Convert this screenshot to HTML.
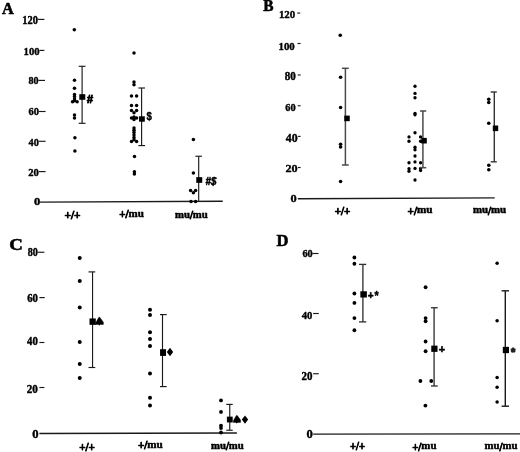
<!DOCTYPE html>
<html><head><meta charset="utf-8"><title>Figure</title>
<style>html,body{margin:0;padding:0;background:#fff;overflow:hidden}svg{display:block}</style>
</head><body>
<svg width="520" height="452" viewBox="0 0 520 452">
<rect width="520" height="452" fill="#fff"/>
<text transform="matrix(0.1631 0 0 0.1628 2.09 13.50)" font-size="100" font-family='"Liberation Serif", serif' font-weight="bold" font-style="normal" fill="#000" stroke="#000" stroke-width="3.5" stroke-linejoin="round">A</text>
<text transform="matrix(0.1042 0 0 0.1163 22.27 23.64)" font-size="100" font-family='"Liberation Serif", serif' font-weight="bold" font-style="normal" fill="#000" stroke="#000" stroke-width="3.5" stroke-linejoin="round">120</text>
<line x1="37.50" y1="19.40" x2="44.40" y2="19.40" stroke="#1a1a1a" stroke-width="1.15"/>
<text transform="matrix(0.1071 0 0 0.1126 23.54 54.59)" font-size="100" font-family='"Liberation Serif", serif' font-weight="bold" font-style="normal" fill="#000" stroke="#000" stroke-width="3.5" stroke-linejoin="round">100</text>
<line x1="39.50" y1="50.40" x2="44.40" y2="50.40" stroke="#1a1a1a" stroke-width="1.15"/>
<text transform="matrix(0.1007 0 0 0.1126 28.42 84.09)" font-size="100" font-family='"Liberation Serif", serif' font-weight="bold" font-style="normal" fill="#000" stroke="#000" stroke-width="3.5" stroke-linejoin="round">80</text>
<line x1="38.30" y1="80.40" x2="45.00" y2="80.40" stroke="#1a1a1a" stroke-width="1.15"/>
<text transform="matrix(0.1051 0 0 0.1111 28.39 114.79)" font-size="100" font-family='"Liberation Serif", serif' font-weight="bold" font-style="normal" fill="#000" stroke="#000" stroke-width="3.5" stroke-linejoin="round">60</text>
<line x1="38.80" y1="111.50" x2="45.60" y2="111.50" stroke="#1a1a1a" stroke-width="1.15"/>
<text transform="matrix(0.1028 0 0 0.1126 28.61 146.49)" font-size="100" font-family='"Liberation Serif", serif' font-weight="bold" font-style="normal" fill="#000" stroke="#000" stroke-width="3.5" stroke-linejoin="round">40</text>
<line x1="38.80" y1="141.30" x2="45.60" y2="141.30" stroke="#1a1a1a" stroke-width="1.15"/>
<text transform="matrix(0.1060 0 0 0.1126 28.30 176.29)" font-size="100" font-family='"Liberation Serif", serif' font-weight="bold" font-style="normal" fill="#000" stroke="#000" stroke-width="3.5" stroke-linejoin="round">20</text>
<line x1="38.80" y1="171.60" x2="45.60" y2="171.60" stroke="#1a1a1a" stroke-width="1.15"/>
<text transform="matrix(0.1262 0 0 0.1082 33.92 204.79)" font-size="100" font-family='"Liberation Serif", serif' font-weight="bold" font-style="normal" fill="#000" stroke="#000" stroke-width="3.5" stroke-linejoin="round">0</text>
<line x1="39.75" y1="202.10" x2="222.75" y2="201.30" stroke="#1a1a1a" stroke-width="1.4"/>
<circle cx="74.30" cy="29.70" r="1.75" fill="#000"/>
<circle cx="74.50" cy="80.20" r="1.75" fill="#000"/>
<circle cx="74.50" cy="88.20" r="1.75" fill="#000"/>
<circle cx="74.50" cy="94.40" r="1.75" fill="#000"/>
<circle cx="74.50" cy="96.60" r="1.75" fill="#000"/>
<circle cx="74.50" cy="99.00" r="1.75" fill="#000"/>
<circle cx="72.50" cy="101.80" r="1.75" fill="#000"/>
<circle cx="77.10" cy="101.80" r="1.75" fill="#000"/>
<circle cx="74.50" cy="100.80" r="1.75" fill="#000"/>
<circle cx="74.50" cy="115.00" r="1.75" fill="#000"/>
<circle cx="74.50" cy="118.00" r="1.75" fill="#000"/>
<circle cx="74.90" cy="137.70" r="1.75" fill="#000"/>
<circle cx="74.90" cy="151.10" r="1.75" fill="#000"/>
<line x1="82.10" y1="66.30" x2="82.10" y2="123.30" stroke="#1a1a1a" stroke-width="1.15"/>
<line x1="78.70" y1="66.30" x2="85.50" y2="66.30" stroke="#1a1a1a" stroke-width="1.15"/>
<line x1="78.70" y1="123.30" x2="85.50" y2="123.30" stroke="#1a1a1a" stroke-width="1.15"/>
<rect x="79.30" y="94.20" width="6" height="5.6" fill="#000"/>
<text transform="matrix(0.1109 0 0 0.1145 86.85 102.80)" font-size="100" font-family='"Liberation Sans", sans-serif' font-weight="bold" font-style="italic" fill="#000" stroke="#000" stroke-width="8" stroke-linejoin="round">#</text>
<circle cx="134.00" cy="52.90" r="1.75" fill="#000"/>
<circle cx="134.00" cy="81.90" r="1.75" fill="#000"/>
<circle cx="134.00" cy="84.75" r="1.75" fill="#000"/>
<circle cx="131.50" cy="95.90" r="1.75" fill="#000"/>
<circle cx="136.60" cy="95.90" r="1.75" fill="#000"/>
<circle cx="131.50" cy="105.60" r="1.75" fill="#000"/>
<circle cx="136.60" cy="105.60" r="1.75" fill="#000"/>
<circle cx="131.50" cy="110.60" r="1.75" fill="#000"/>
<circle cx="136.60" cy="110.60" r="1.75" fill="#000"/>
<circle cx="134.00" cy="112.75" r="1.75" fill="#000"/>
<circle cx="131.50" cy="118.00" r="1.75" fill="#000"/>
<circle cx="136.60" cy="118.00" r="1.75" fill="#000"/>
<circle cx="134.00" cy="117.00" r="1.75" fill="#000"/>
<circle cx="134.00" cy="119.50" r="1.75" fill="#000"/>
<circle cx="134.00" cy="128.00" r="1.75" fill="#000"/>
<circle cx="134.00" cy="130.30" r="1.75" fill="#000"/>
<circle cx="134.00" cy="132.60" r="1.75" fill="#000"/>
<circle cx="134.00" cy="135.00" r="1.75" fill="#000"/>
<circle cx="134.00" cy="137.40" r="1.75" fill="#000"/>
<circle cx="134.00" cy="139.80" r="1.75" fill="#000"/>
<circle cx="131.50" cy="141.50" r="1.75" fill="#000"/>
<circle cx="136.60" cy="141.50" r="1.75" fill="#000"/>
<circle cx="134.50" cy="156.60" r="1.75" fill="#000"/>
<circle cx="134.40" cy="171.70" r="1.75" fill="#000"/>
<circle cx="134.40" cy="174.00" r="1.75" fill="#000"/>
<line x1="141.60" y1="88.00" x2="141.60" y2="145.60" stroke="#1a1a1a" stroke-width="1.15"/>
<line x1="138.40" y1="88.00" x2="145.00" y2="88.00" stroke="#1a1a1a" stroke-width="1.15"/>
<line x1="138.40" y1="145.60" x2="145.00" y2="145.60" stroke="#1a1a1a" stroke-width="1.15"/>
<rect x="139.00" y="116.30" width="5.8" height="5.4" fill="#000"/>
<text transform="matrix(0.0964 0 0 0.1115 146.47 119.77)" font-size="100" font-family='"Liberation Sans", sans-serif' font-weight="bold" font-style="normal" fill="#000" stroke="#000" stroke-width="3.5" stroke-linejoin="round">$</text>
<circle cx="193.40" cy="139.40" r="1.75" fill="#000"/>
<circle cx="193.40" cy="173.00" r="1.75" fill="#000"/>
<circle cx="190.60" cy="190.60" r="1.75" fill="#000"/>
<circle cx="195.60" cy="190.60" r="1.75" fill="#000"/>
<circle cx="193.40" cy="192.75" r="1.75" fill="#000"/>
<circle cx="191.00" cy="201.50" r="1.75" fill="#000"/>
<circle cx="195.60" cy="201.50" r="1.75" fill="#000"/>
<line x1="198.70" y1="156.25" x2="198.70" y2="201.00" stroke="#1a1a1a" stroke-width="1.15"/>
<line x1="195.40" y1="156.25" x2="201.90" y2="156.25" stroke="#1a1a1a" stroke-width="1.15"/>
<rect x="196.25" y="177.15" width="6" height="5.7" fill="#000"/>
<text transform="matrix(0.0973 0 0 0.1066 205.59 184.51)" font-size="100" font-family='"Liberation Sans", sans-serif' font-weight="bold" font-style="italic" fill="#000" stroke="#000" stroke-width="5" stroke-linejoin="round">#$</text>
<text transform="matrix(0.1143 0 0 0.1200 64.40 219.40)" font-size="100" font-family='"Liberation Serif", serif' font-weight="bold" fill="#000" stroke="#000" stroke-width="7.0" stroke-linejoin="round">+/+</text>
<text transform="matrix(0.1101 0 0 0.1200 119.17 218.20)" font-size="100" font-family='"Liberation Serif", serif' font-weight="bold" fill="#000" stroke="#000" stroke-width="7.0" stroke-linejoin="round">+/</text>
<text transform="matrix(0.1101 0 0 0.1090 128.50 216.70)" font-size="100" font-family='"Liberation Serif", serif' font-weight="bold" fill="#000" stroke="#000" stroke-width="4.5" stroke-linejoin="round">mu</text>
<text transform="matrix(0.1074 0 0 0.1090 174.96 217.50)" font-size="100" font-family='"Liberation Serif", serif' font-weight="bold" fill="#000" stroke="#000" stroke-width="4.5" stroke-linejoin="round">mu</text>
<text transform="matrix(0.1074 0 0 0.1200 189.88 219.00)" font-size="100" font-family='"Liberation Serif", serif' font-weight="bold" fill="#000" stroke="#000" stroke-width="7.0" stroke-linejoin="round">/</text>
<text transform="matrix(0.1074 0 0 0.1090 192.87 217.50)" font-size="100" font-family='"Liberation Serif", serif' font-weight="bold" fill="#000" stroke="#000" stroke-width="4.5" stroke-linejoin="round">mu</text>
<text transform="matrix(0.1542 0 0 0.1596 263.24 11.45)" font-size="100" font-family='"Liberation Serif", serif' font-weight="bold" font-style="normal" fill="#000" stroke="#000" stroke-width="3.5" stroke-linejoin="round">B</text>
<text transform="matrix(0.1086 0 0 0.1082 278.88 17.79)" font-size="100" font-family='"Liberation Serif", serif' font-weight="bold" font-style="normal" fill="#000" stroke="#000" stroke-width="3.5" stroke-linejoin="round">120</text>
<line x1="297.25" y1="13.10" x2="300.20" y2="13.10" stroke="#1a1a1a" stroke-width="1.15"/>
<text transform="matrix(0.1086 0 0 0.1111 278.53 49.89)" font-size="100" font-family='"Liberation Serif", serif' font-weight="bold" font-style="normal" fill="#000" stroke="#000" stroke-width="3.5" stroke-linejoin="round">100</text>
<line x1="297.50" y1="43.50" x2="300.60" y2="43.50" stroke="#1a1a1a" stroke-width="1.15"/>
<text transform="matrix(0.1104 0 0 0.1208 284.63 80.28)" font-size="100" font-family='"Liberation Serif", serif' font-weight="bold" font-style="normal" fill="#000" stroke="#000" stroke-width="3.5" stroke-linejoin="round">80</text>
<line x1="297.75" y1="75.00" x2="300.60" y2="75.00" stroke="#1a1a1a" stroke-width="1.15"/>
<text transform="matrix(0.1040 0 0 0.1141 285.24 111.49)" font-size="100" font-family='"Liberation Serif", serif' font-weight="bold" font-style="normal" fill="#000" stroke="#000" stroke-width="3.5" stroke-linejoin="round">60</text>
<line x1="297.75" y1="105.75" x2="300.60" y2="105.75" stroke="#1a1a1a" stroke-width="1.15"/>
<text transform="matrix(0.1186 0 0 0.1148 285.84 142.14)" font-size="100" font-family='"Liberation Serif", serif' font-weight="bold" font-style="normal" fill="#000" stroke="#000" stroke-width="3.5" stroke-linejoin="round">40</text>
<line x1="298.10" y1="136.40" x2="300.60" y2="136.40" stroke="#1a1a1a" stroke-width="1.15"/>
<text transform="matrix(0.1223 0 0 0.1111 285.49 171.89)" font-size="100" font-family='"Liberation Serif", serif' font-weight="bold" font-style="normal" fill="#000" stroke="#000" stroke-width="3.5" stroke-linejoin="round">20</text>
<line x1="298.00" y1="167.50" x2="300.60" y2="167.50" stroke="#1a1a1a" stroke-width="1.15"/>
<text transform="matrix(0.1239 0 0 0.1111 290.53 201.89)" font-size="100" font-family='"Liberation Serif", serif' font-weight="bold" font-style="normal" fill="#000" stroke="#000" stroke-width="3.5" stroke-linejoin="round">0</text>
<line x1="297.90" y1="198.70" x2="494.70" y2="197.90" stroke="#1a1a1a" stroke-width="1.4"/>
<circle cx="340.25" cy="35.25" r="1.8" fill="#000"/>
<circle cx="340.60" cy="77.25" r="1.8" fill="#000"/>
<circle cx="340.60" cy="107.50" r="1.8" fill="#000"/>
<circle cx="340.60" cy="144.20" r="1.8" fill="#000"/>
<circle cx="340.60" cy="147.00" r="1.8" fill="#000"/>
<circle cx="340.60" cy="181.50" r="1.8" fill="#000"/>
<line x1="345.40" y1="68.30" x2="345.40" y2="165.00" stroke="#4a4a4a" stroke-width="1.5"/>
<line x1="341.90" y1="68.30" x2="348.75" y2="68.30" stroke="#4a4a4a" stroke-width="1.5"/>
<line x1="341.90" y1="165.00" x2="348.75" y2="165.00" stroke="#4a4a4a" stroke-width="1.5"/>
<rect x="344.25" y="115.60" width="5.5" height="5.6" fill="#000"/>
<circle cx="415.00" cy="86.25" r="1.65" fill="#000"/>
<circle cx="415.00" cy="93.40" r="1.65" fill="#000"/>
<circle cx="415.00" cy="97.75" r="1.65" fill="#000"/>
<circle cx="415.00" cy="113.30" r="1.65" fill="#000"/>
<circle cx="415.00" cy="114.80" r="1.65" fill="#000"/>
<circle cx="415.00" cy="132.75" r="1.65" fill="#000"/>
<circle cx="409.00" cy="136.90" r="1.65" fill="#000"/>
<circle cx="420.60" cy="136.90" r="1.65" fill="#000"/>
<circle cx="409.00" cy="141.25" r="1.65" fill="#000"/>
<circle cx="420.60" cy="141.25" r="1.65" fill="#000"/>
<circle cx="415.00" cy="147.25" r="1.65" fill="#000"/>
<circle cx="415.00" cy="149.75" r="1.65" fill="#000"/>
<circle cx="415.00" cy="156.00" r="1.65" fill="#000"/>
<circle cx="415.00" cy="161.90" r="1.65" fill="#000"/>
<circle cx="409.00" cy="162.75" r="1.65" fill="#000"/>
<circle cx="420.60" cy="162.75" r="1.65" fill="#000"/>
<circle cx="415.00" cy="168.40" r="1.65" fill="#000"/>
<circle cx="409.00" cy="168.75" r="1.65" fill="#000"/>
<circle cx="409.00" cy="171.25" r="1.65" fill="#000"/>
<circle cx="420.60" cy="168.50" r="1.65" fill="#000"/>
<circle cx="420.60" cy="170.50" r="1.65" fill="#000"/>
<circle cx="415.00" cy="180.00" r="1.65" fill="#000"/>
<line x1="422.90" y1="111.00" x2="422.90" y2="167.70" stroke="#4a4a4a" stroke-width="1.5"/>
<line x1="420.00" y1="111.00" x2="426.25" y2="111.00" stroke="#4a4a4a" stroke-width="1.5"/>
<line x1="420.00" y1="167.70" x2="426.25" y2="167.70" stroke="#4a4a4a" stroke-width="1.5"/>
<rect x="421.20" y="137.90" width="5.6" height="5.6" fill="#000"/>
<circle cx="488.75" cy="99.20" r="1.8" fill="#000"/>
<circle cx="488.75" cy="102.50" r="1.8" fill="#000"/>
<circle cx="488.75" cy="123.20" r="1.8" fill="#000"/>
<circle cx="488.80" cy="165.30" r="1.8" fill="#000"/>
<circle cx="488.80" cy="169.70" r="1.8" fill="#000"/>
<line x1="494.30" y1="92.00" x2="494.30" y2="161.80" stroke="#333" stroke-width="1.4"/>
<line x1="490.70" y1="92.00" x2="496.80" y2="92.00" stroke="#333" stroke-width="1.4"/>
<line x1="490.70" y1="161.80" x2="496.80" y2="161.80" stroke="#333" stroke-width="1.4"/>
<rect x="492.80" y="125.50" width="5.4" height="5.6" fill="#000"/>
<text transform="matrix(0.1105 0 0 0.1200 334.67 214.50)" font-size="100" font-family='"Liberation Serif", serif' font-weight="bold" fill="#000" stroke="#000" stroke-width="7.0" stroke-linejoin="round">+/+</text>
<text transform="matrix(0.1119 0 0 0.1200 407.51 214.75)" font-size="100" font-family='"Liberation Serif", serif' font-weight="bold" fill="#000" stroke="#000" stroke-width="7.0" stroke-linejoin="round">+/</text>
<text transform="matrix(0.1119 0 0 0.1090 417.00 213.25)" font-size="100" font-family='"Liberation Serif", serif' font-weight="bold" fill="#000" stroke="#000" stroke-width="4.5" stroke-linejoin="round">mu</text>
<text transform="matrix(0.1086 0 0 0.1090 472.91 213.30)" font-size="100" font-family='"Liberation Serif", serif' font-weight="bold" fill="#000" stroke="#000" stroke-width="4.5" stroke-linejoin="round">mu</text>
<text transform="matrix(0.1086 0 0 0.1200 487.99 214.80)" font-size="100" font-family='"Liberation Serif", serif' font-weight="bold" fill="#000" stroke="#000" stroke-width="7.0" stroke-linejoin="round">/</text>
<text transform="matrix(0.1086 0 0 0.1090 491.01 213.30)" font-size="100" font-family='"Liberation Serif", serif' font-weight="bold" fill="#000" stroke="#000" stroke-width="4.5" stroke-linejoin="round">mu</text>
<text transform="matrix(0.1884 0 0 0.1734 9.33 249.58)" font-size="100" font-family='"Liberation Serif", serif' font-weight="bold" font-style="normal" fill="#000" stroke="#000" stroke-width="3.5" stroke-linejoin="round">C</text>
<text transform="matrix(0.1012 0 0 0.1186 27.76 256.13)" font-size="100" font-family='"Liberation Serif", serif' font-weight="bold" font-style="normal" fill="#000" stroke="#000" stroke-width="3.5" stroke-linejoin="round">80</text>
<line x1="37.50" y1="252.25" x2="44.40" y2="252.25" stroke="#1a1a1a" stroke-width="1.15"/>
<text transform="matrix(0.1078 0 0 0.1223 27.13 301.63)" font-size="100" font-family='"Liberation Serif", serif' font-weight="bold" font-style="normal" fill="#000" stroke="#000" stroke-width="3.5" stroke-linejoin="round">60</text>
<line x1="39.40" y1="297.60" x2="44.75" y2="297.60" stroke="#1a1a1a" stroke-width="1.15"/>
<text transform="matrix(0.1081 0 0 0.1200 27.10 345.48)" font-size="100" font-family='"Liberation Serif", serif' font-weight="bold" font-style="normal" fill="#000" stroke="#000" stroke-width="3.5" stroke-linejoin="round">40</text>
<line x1="39.40" y1="342.50" x2="44.40" y2="342.50" stroke="#1a1a1a" stroke-width="1.15"/>
<text transform="matrix(0.1114 0 0 0.1163 26.78 392.99)" font-size="100" font-family='"Liberation Serif", serif' font-weight="bold" font-style="normal" fill="#000" stroke="#000" stroke-width="3.5" stroke-linejoin="round">20</text>
<line x1="39.40" y1="387.50" x2="44.40" y2="387.50" stroke="#1a1a1a" stroke-width="1.15"/>
<text transform="matrix(0.1262 0 0 0.1208 32.27 437.78)" font-size="100" font-family='"Liberation Serif", serif' font-weight="bold" font-style="normal" fill="#000" stroke="#000" stroke-width="3.5" stroke-linejoin="round">0</text>
<line x1="39.40" y1="433.50" x2="236.90" y2="433.00" stroke="#1a1a1a" stroke-width="1.4"/>
<circle cx="79.75" cy="258.10" r="2.0" fill="#000"/>
<circle cx="79.75" cy="281.00" r="2.0" fill="#000"/>
<circle cx="79.75" cy="307.50" r="2.0" fill="#000"/>
<circle cx="79.75" cy="341.90" r="2.0" fill="#000"/>
<circle cx="79.75" cy="364.10" r="2.0" fill="#000"/>
<circle cx="79.75" cy="377.90" r="2.0" fill="#000"/>
<line x1="92.55" y1="271.90" x2="92.55" y2="367.50" stroke="#1a1a1a" stroke-width="1.15"/>
<line x1="88.50" y1="271.90" x2="95.25" y2="271.90" stroke="#1a1a1a" stroke-width="1.15"/>
<line x1="88.50" y1="367.50" x2="95.25" y2="367.50" stroke="#1a1a1a" stroke-width="1.15"/>
<rect x="89.50" y="318.45" width="6.3" height="6.4" fill="#000"/>
<polygon points="95.60,324.50 95.60,322.90 98.80,317.30 99.80,317.30 103.40,322.20 103.40,324.50 100.30,324.50 99.30,325.30 98.30,324.50" fill="#000" stroke="#000" stroke-width="0.4" stroke-linejoin="round"/>
<circle cx="150.00" cy="309.75" r="2.0" fill="#000"/>
<circle cx="150.00" cy="315.00" r="2.0" fill="#000"/>
<circle cx="150.00" cy="332.25" r="2.0" fill="#000"/>
<circle cx="150.00" cy="339.10" r="2.0" fill="#000"/>
<circle cx="150.00" cy="346.00" r="2.0" fill="#000"/>
<circle cx="150.00" cy="373.50" r="2.0" fill="#000"/>
<circle cx="150.00" cy="397.75" r="2.0" fill="#000"/>
<circle cx="150.00" cy="405.40" r="2.0" fill="#000"/>
<line x1="162.50" y1="314.60" x2="162.50" y2="386.60" stroke="#1a1a1a" stroke-width="1.15"/>
<line x1="160.00" y1="314.60" x2="166.70" y2="314.60" stroke="#1a1a1a" stroke-width="1.15"/>
<line x1="160.00" y1="386.60" x2="166.70" y2="386.60" stroke="#1a1a1a" stroke-width="1.15"/>
<rect x="160.05" y="349.20" width="6.0" height="6.7" fill="#000"/>
<polygon points="166.85,352.05 170.00,347.75 173.15,352.05 170.00,356.35" fill="#000"/>
<circle cx="221.00" cy="400.40" r="1.9" fill="#000"/>
<circle cx="221.00" cy="411.90" r="1.9" fill="#000"/>
<circle cx="221.00" cy="425.60" r="1.9" fill="#000"/>
<circle cx="221.00" cy="428.10" r="1.9" fill="#000"/>
<circle cx="221.00" cy="432.50" r="1.9" fill="#000"/>
<line x1="229.75" y1="404.40" x2="229.75" y2="430.25" stroke="#1a1a1a" stroke-width="1.15"/>
<line x1="226.25" y1="404.40" x2="232.75" y2="404.40" stroke="#1a1a1a" stroke-width="1.15"/>
<line x1="226.25" y1="430.25" x2="232.75" y2="430.25" stroke="#1a1a1a" stroke-width="1.15"/>
<rect x="226.90" y="416.65" width="5.8" height="5.8" fill="#000"/>
<polygon points="233.30,422.40 233.30,420.80 236.30,415.60 237.30,415.60 240.60,420.10 240.60,422.40 237.80,422.40 236.80,423.20 235.80,422.40" fill="#000" stroke="#000" stroke-width="0.4" stroke-linejoin="round"/>
<polygon points="241.85,419.55 245.00,415.40 248.15,419.55 245.00,423.70" fill="#000"/>
<text transform="matrix(0.1116 0 0 0.1200 79.16 450.50)" font-size="100" font-family='"Liberation Serif", serif' font-weight="bold" fill="#000" stroke="#000" stroke-width="7.0" stroke-linejoin="round">+/+</text>
<text transform="matrix(0.1113 0 0 0.1200 137.91 449.25)" font-size="100" font-family='"Liberation Serif", serif' font-weight="bold" fill="#000" stroke="#000" stroke-width="7.0" stroke-linejoin="round">+/</text>
<text transform="matrix(0.1113 0 0 0.1090 147.34 447.75)" font-size="100" font-family='"Liberation Serif", serif' font-weight="bold" fill="#000" stroke="#000" stroke-width="4.5" stroke-linejoin="round">mu</text>
<text transform="matrix(0.1074 0 0 0.1090 210.96 448.60)" font-size="100" font-family='"Liberation Serif", serif' font-weight="bold" fill="#000" stroke="#000" stroke-width="4.5" stroke-linejoin="round">mu</text>
<text transform="matrix(0.1074 0 0 0.1200 225.88 450.10)" font-size="100" font-family='"Liberation Serif", serif' font-weight="bold" fill="#000" stroke="#000" stroke-width="7.0" stroke-linejoin="round">/</text>
<text transform="matrix(0.1074 0 0 0.1090 228.87 448.60)" font-size="100" font-family='"Liberation Serif", serif' font-weight="bold" fill="#000" stroke="#000" stroke-width="4.5" stroke-linejoin="round">mu</text>
<text transform="matrix(0.1655 0 0 0.1713 276.61 245.97)" font-size="100" font-family='"Liberation Serif", serif' font-weight="bold" font-style="normal" fill="#000" stroke="#000" stroke-width="3.5" stroke-linejoin="round">D</text>
<text transform="matrix(0.1029 0 0 0.1111 302.40 257.14)" font-size="100" font-family='"Liberation Serif", serif' font-weight="bold" font-style="normal" fill="#000" stroke="#000" stroke-width="3.5" stroke-linejoin="round">60</text>
<line x1="312.50" y1="253.50" x2="318.50" y2="253.50" stroke="#1a1a1a" stroke-width="1.15"/>
<text transform="matrix(0.1065 0 0 0.1111 301.75 318.64)" font-size="100" font-family='"Liberation Serif", serif' font-weight="bold" font-style="normal" fill="#000" stroke="#000" stroke-width="3.5" stroke-linejoin="round">40</text>
<line x1="313.10" y1="313.50" x2="318.75" y2="313.50" stroke="#1a1a1a" stroke-width="1.15"/>
<text transform="matrix(0.1098 0 0 0.1148 301.44 379.89)" font-size="100" font-family='"Liberation Serif", serif' font-weight="bold" font-style="normal" fill="#000" stroke="#000" stroke-width="3.5" stroke-linejoin="round">20</text>
<line x1="313.10" y1="373.75" x2="318.75" y2="373.75" stroke="#1a1a1a" stroke-width="1.15"/>
<text transform="matrix(0.1262 0 0 0.1163 306.42 438.14)" font-size="100" font-family='"Liberation Serif", serif' font-weight="bold" font-style="normal" fill="#000" stroke="#000" stroke-width="3.5" stroke-linejoin="round">0</text>
<line x1="313.10" y1="434.10" x2="520.00" y2="433.90" stroke="#1a1a1a" stroke-width="1.4"/>
<circle cx="354.40" cy="257.50" r="1.9" fill="#000"/>
<circle cx="354.40" cy="263.75" r="1.9" fill="#000"/>
<circle cx="354.40" cy="293.50" r="1.9" fill="#000"/>
<circle cx="354.40" cy="302.90" r="1.9" fill="#000"/>
<circle cx="354.40" cy="318.10" r="1.9" fill="#000"/>
<circle cx="354.40" cy="330.25" r="1.9" fill="#000"/>
<line x1="362.90" y1="264.40" x2="362.90" y2="321.90" stroke="#333" stroke-width="1.35"/>
<line x1="359.00" y1="264.40" x2="366.25" y2="264.40" stroke="#333" stroke-width="1.35"/>
<line x1="359.00" y1="321.90" x2="366.25" y2="321.90" stroke="#333" stroke-width="1.35"/>
<rect x="360.35" y="291.27" width="6.5" height="6.25" fill="#000"/>
<text transform="matrix(0.0997 0 0 0.1122 367.68 299.38)" font-size="100" font-family='"Liberation Sans", sans-serif' font-weight="bold" font-style="normal" fill="#000" stroke="#000" stroke-width="5" stroke-linejoin="round">+</text>
<text transform="matrix(0.1064 0 0 0.1209 374.47 299.72)" font-size="100" font-family='"Liberation Sans", sans-serif' font-weight="bold" font-style="normal" fill="#000" stroke="#000" stroke-width="4" stroke-linejoin="round">*</text>
<circle cx="425.60" cy="287.25" r="1.9" fill="#000"/>
<circle cx="425.60" cy="318.10" r="1.9" fill="#000"/>
<circle cx="425.60" cy="321.25" r="1.9" fill="#000"/>
<circle cx="425.60" cy="341.50" r="1.9" fill="#000"/>
<circle cx="425.60" cy="351.25" r="1.9" fill="#000"/>
<circle cx="420.40" cy="381.00" r="1.9" fill="#000"/>
<circle cx="431.25" cy="381.00" r="1.9" fill="#000"/>
<circle cx="425.40" cy="405.60" r="1.9" fill="#000"/>
<line x1="434.10" y1="307.75" x2="434.10" y2="386.00" stroke="#333" stroke-width="1.35"/>
<line x1="431.00" y1="307.75" x2="437.70" y2="307.75" stroke="#333" stroke-width="1.35"/>
<line x1="431.00" y1="386.00" x2="437.70" y2="386.00" stroke="#333" stroke-width="1.35"/>
<rect x="431.27" y="345.62" width="6.25" height="6.25" fill="#000"/>
<text transform="matrix(0.1097 0 0 0.1113 438.64 352.77)" font-size="100" font-family='"Liberation Sans", sans-serif' font-weight="bold" font-style="normal" fill="#000" stroke="#000" stroke-width="5" stroke-linejoin="round">+</text>
<circle cx="497.10" cy="263.30" r="1.75" fill="#000"/>
<circle cx="497.10" cy="320.70" r="1.75" fill="#000"/>
<circle cx="497.10" cy="377.50" r="1.75" fill="#000"/>
<circle cx="497.10" cy="387.30" r="1.75" fill="#000"/>
<circle cx="497.10" cy="402.00" r="1.75" fill="#000"/>
<line x1="505.30" y1="290.80" x2="505.30" y2="406.20" stroke="#1a1a1a" stroke-width="1.4"/>
<line x1="501.60" y1="290.80" x2="509.00" y2="290.80" stroke="#1a1a1a" stroke-width="1.4"/>
<line x1="501.60" y1="406.20" x2="509.00" y2="406.20" stroke="#1a1a1a" stroke-width="1.4"/>
<rect x="502.80" y="346.85" width="6.2" height="6.3" fill="#000"/>
<text transform="matrix(0.1090 0 0 0.1156 510.97 355.85)" font-size="100" font-family='"Liberation Sans", sans-serif' font-weight="bold" font-style="normal" fill="#222" stroke="#222" stroke-width="10" stroke-linejoin="round">*</text>
<text transform="matrix(0.1059 0 0 0.1200 350.04 450.30)" font-size="100" font-family='"Liberation Serif", serif' font-weight="bold" fill="#000" stroke="#000" stroke-width="7.0" stroke-linejoin="round">+/+</text>
<text transform="matrix(0.1089 0 0 0.1200 412.13 450.80)" font-size="100" font-family='"Liberation Serif", serif' font-weight="bold" fill="#000" stroke="#000" stroke-width="7.0" stroke-linejoin="round">+/</text>
<text transform="matrix(0.1089 0 0 0.1090 421.36 449.30)" font-size="100" font-family='"Liberation Serif", serif' font-weight="bold" fill="#000" stroke="#000" stroke-width="4.5" stroke-linejoin="round">mu</text>
<text transform="matrix(0.1079 0 0 0.1090 484.51 449.40)" font-size="100" font-family='"Liberation Serif", serif' font-weight="bold" fill="#000" stroke="#000" stroke-width="4.5" stroke-linejoin="round">mu</text>
<text transform="matrix(0.1079 0 0 0.1200 499.50 450.90)" font-size="100" font-family='"Liberation Serif", serif' font-weight="bold" fill="#000" stroke="#000" stroke-width="7.0" stroke-linejoin="round">/</text>
<text transform="matrix(0.1079 0 0 0.1090 502.50 449.40)" font-size="100" font-family='"Liberation Serif", serif' font-weight="bold" fill="#000" stroke="#000" stroke-width="4.5" stroke-linejoin="round">mu</text>
</svg>
</body></html>
